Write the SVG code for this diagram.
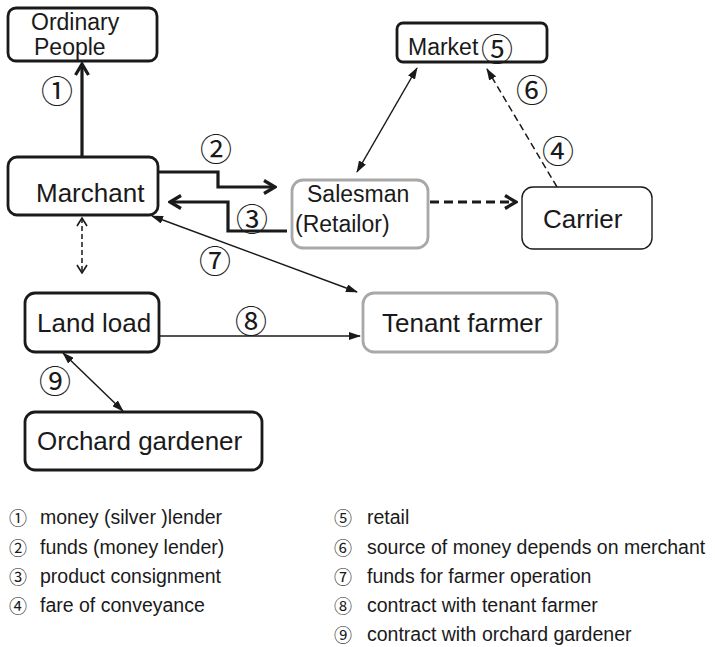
<svg xmlns="http://www.w3.org/2000/svg" width="715" height="647" viewBox="0 0 715 647">
<style>
.box{fill:#fff;stroke:#1a1a1a;stroke-width:2.8}
.gbox{fill:#fff;stroke:#a8a8a8;stroke-width:2.8}
.tbox{fill:#fff;stroke:#1a1a1a;stroke-width:1.4}
.lbl{font-family:"Liberation Sans",Arial,sans-serif;font-size:26px;fill:#1a1a1a}
.lbs{font-family:"Liberation Sans",Arial,sans-serif;font-size:23px;fill:#1a1a1a}
.num{font-family:"Noto Sans CJK JP",sans-serif;font-size:32px;fill:#1a1a1a;text-anchor:middle}
.leg{font-family:"Liberation Sans",Arial,sans-serif;font-size:19.5px;fill:#1a1a1a}
.legn{font-family:"Noto Sans CJK JP",sans-serif;font-size:18px;fill:#1a1a1a;text-anchor:middle}
.thick{fill:none;stroke:#1a1a1a;stroke-width:3.2}
.thin{fill:none;stroke:#1a1a1a;stroke-width:1.5}
</style>
<defs>
<marker id="chev" markerUnits="userSpaceOnUse" viewBox="0 0 16 16" markerWidth="16" markerHeight="16" refX="14" refY="8" orient="auto-start-reverse">
<path d="M3,1.5 L14,8 L3,14.5" fill="none" stroke="#1a1a1a" stroke-width="3.2"/>
</marker>
<marker id="chevthin" markerUnits="userSpaceOnUse" viewBox="0 0 12 12" markerWidth="12" markerHeight="12" refX="11" refY="6" orient="auto-start-reverse">
<path d="M3,1 L11,6 L3,11" fill="none" stroke="#1a1a1a" stroke-width="1.6"/>
</marker>
<marker id="tri" markerUnits="userSpaceOnUse" viewBox="0 0 12 8" markerWidth="12" markerHeight="8" refX="11" refY="4" orient="auto-start-reverse">
<path d="M0,0 L12,4 L0,8 z" fill="#1a1a1a"/>
</marker>
</defs>

<g id="connectors">
<line class="thick" x1="82" y1="157" x2="82" y2="64" marker-end="url(#chev)"/>
<polyline class="thick" points="158,172 218,172 218,187 275,187" marker-end="url(#chev)"/>
<polyline class="thick" points="287,231 228,231 228,202 170,202" marker-end="url(#chev)"/>
<line class="thick" x1="430" y1="202" x2="516" y2="202" stroke-dasharray="9,5" marker-end="url(#chev)"/>
<line class="thin" x1="417" y1="68" x2="357" y2="172" marker-start="url(#tri)" marker-end="url(#tri)"/>
<line class="thin" x1="557" y1="187" x2="487" y2="69" stroke-width="2" stroke-dasharray="7,4" marker-end="url(#tri)"/>
<line class="thin" x1="82" y1="218" x2="82" y2="273" stroke-dasharray="5,3" marker-start="url(#chevthin)" marker-end="url(#chevthin)"/>
<line class="thin" x1="152" y1="216" x2="357" y2="292" marker-start="url(#tri)" marker-end="url(#tri)"/>
<line class="thin" x1="159" y1="336" x2="360" y2="336" marker-end="url(#tri)"/>
<line class="thin" x1="63" y1="353" x2="123" y2="411" marker-start="url(#tri)" marker-end="url(#tri)"/>
</g>

<g id="labels">
<text class="num" x="57" y="103">①</text>
<text class="num" x="216" y="161">②</text>
<text class="num" x="252" y="231">③</text>
<text class="num" x="558" y="163">④</text>
<text class="num" x="532" y="102">⑥</text>
<text class="num" x="215" y="273">⑦</text>
<text class="num" x="251" y="333">⑧</text>
<text class="num" x="55" y="393">⑨</text>
</g>

<g id="ordinary-people">
<rect class="box" x="8" y="8" width="149" height="53" rx="8"/>
<text class="lbs" x="31" y="30">Ordinary</text>
<text class="lbs" x="34" y="55">People</text>
</g>
<g id="market">
<rect class="box" x="397" y="23" width="150" height="39" rx="6"/>
<text class="lbs" x="408" y="55">Market</text>
<text class="num" x="497" y="61">⑤</text>
</g>
<g id="marchant">
<rect class="box" x="8" y="157" width="150" height="58" rx="9"/>
<text class="lbl" x="36" y="202">Marchant</text>
</g>
<g id="salesman">
<rect class="gbox" x="292" y="180" width="136" height="68" rx="11"/>
<text class="lbs" x="307" y="202">Salesman</text>
<text class="lbs" x="295" y="232">(Retailor)</text>
</g>
<g id="carrier">
<rect class="tbox" x="522" y="187" width="130" height="62" rx="11"/>
<text class="lbl" x="543" y="228">Carrier</text>
</g>
<g id="land-load">
<rect class="box" x="25" y="293" width="134" height="59" rx="10"/>
<text class="lbl" x="37" y="332">Land load</text>
</g>
<g id="tenant-farmer">
<rect class="gbox" x="363" y="293" width="194" height="59" rx="11"/>
<text class="lbl" x="382" y="332">Tenant farmer</text>
</g>
<g id="orchard-gardener">
<rect class="box" x="25" y="412" width="237" height="58" rx="10"/>
<text class="lbl" x="37" y="450">Orchard gardener</text>
</g>

<g id="legend">
<text class="legn" x="18" y="525">①</text><text class="leg" x="40" y="524">money (silver )lender</text>
<text class="legn" x="18" y="555">②</text><text class="leg" x="40" y="554">funds (money lender)</text>
<text class="legn" x="18" y="584">③</text><text class="leg" x="40" y="583">product consignment</text>
<text class="legn" x="18" y="613">④</text><text class="leg" x="40" y="612">fare of conveyance</text>
<text class="legn" x="343" y="525">⑤</text><text class="leg" x="367" y="524">retail</text>
<text class="legn" x="343" y="555">⑥</text><text class="leg" x="367" y="554">source of money depends on merchant</text>
<text class="legn" x="343" y="584">⑦</text><text class="leg" x="367" y="583">funds for farmer operation</text>
<text class="legn" x="343" y="613">⑧</text><text class="leg" x="367" y="612">contract with tenant farmer</text>
<text class="legn" x="343" y="642">⑨</text><text class="leg" x="367" y="641">contract with orchard gardener</text>
</g>
</svg>
